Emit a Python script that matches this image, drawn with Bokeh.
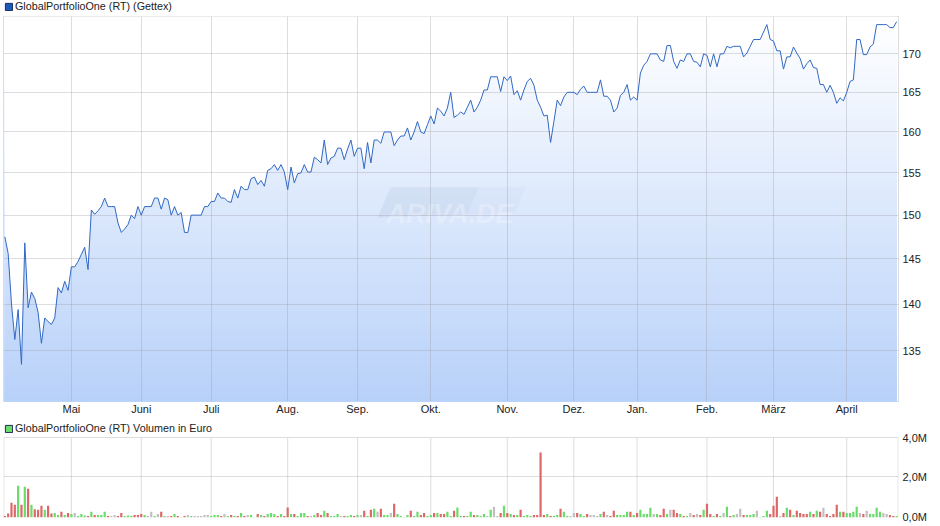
import numpy as np
from bokeh.plotting import figure
from bokeh.layouts import column
from bokeh.models import Range1d, FixedTicker, Legend, LegendItem, ColumnDataSource
from bokeh.core.properties import value
from bokeh.embed import file_html
from bokeh.resources import INLINE

price = [
147.5,145.6,140.0,136.2,139.4,133.6,146.8,139.6,141.3,140.6,
139.1,135.8,138.5,138.1,137.8,138.5,141.8,141.2,142.5,141.5,
144.1,144.1,144.7,145.5,146.3,143.8,150.6,150.1,150.5,151.0,
152.0,151.0,151.0,151.0,149.1,148.0,148.4,148.9,150.0,149.6,
151.0,150.0,151.0,151.0,151.0,152.0,152.0,150.7,152.0,151.8,
150.0,151.0,150.0,150.3,148.0,148.0,150.0,150.0,150.0,150.0,
151.0,151.0,151.6,151.6,152.6,152.0,152.0,151.6,151.5,153.0,
152.0,153.4,153.0,153.0,154.3,154.5,153.6,154.1,153.4,155.3,
155.5,156.0,155.3,156.0,155.1,153.0,155.7,153.8,154.9,155.0,
156.0,155.1,155.1,156.9,156.6,156.2,159.0,156.0,156.8,157.0,
158.0,158.0,156.6,157.9,159.0,157.0,158.0,158.0,155.5,158.7,
156.2,159.0,159.0,158.6,160.0,160.0,160.0,158.3,159.0,159.5,
159.5,160.5,159.0,160.0,161.3,160.0,159.8,160.9,162.0,161.0,
163.0,162.6,162.0,163.0,165.0,161.8,162.1,162.5,162.2,163.1,
164.0,162.5,163.1,164.0,165.3,165.3,167.0,167.0,167.0,165.1,
167.0,166.5,167.1,164.7,165.2,164.0,165.3,166.4,166.8,165.9,
164.0,163.1,162.0,162.1,158.7,161.3,164.0,163.3,164.4,165.0,
165.0,165.0,164.7,165.4,165.8,165.0,165.0,165.0,165.0,166.6,
164.5,164.5,164.0,162.5,163.0,164.6,165.0,166.0,164.0,164.4,
164.0,167.5,168.5,169.0,170.0,170.0,170.0,169.2,169.0,171.1,
171.1,169.0,168.1,169.2,169.0,170.0,170.0,169.0,168.9,168.3,
170.0,169.8,168.3,170.0,168.3,170.0,170.0,171.0,170.8,171.0,
171.0,171.0,169.6,170.1,171.0,171.9,171.9,171.9,172.9,173.9,
171.9,171.7,170.4,170.4,168.0,169.6,169.6,170.9,170.1,169.4,
168.0,168.7,169.2,168.2,168.1,166.0,166.0,165.0,165.9,165.0,
163.6,164.3,163.9,165.0,166.4,166.6,171.9,171.9,169.9,169.9,
170.9,171.3,173.9,173.9,173.9,173.9,173.5,173.5,174.3]

volume = [
.08,.2,.74,.64,1.59,.64,1.54,1.44,.64,.42,
.39,.59,.39,.59,.2,.23,.13,.29,.13,.23,
.18,.23,.08,.18,.1,.08,.29,.13,.13,.13,
.29,.08,.08,.13,.08,.23,.08,.1,.08,.13,
.13,.18,.13,.08,.29,.08,.18,.29,.08,.05,
.08,.18,.08,.03,.08,.13,.08,.08,.08,.08,
.13,.13,.08,.13,.13,.08,.18,.08,.13,.08,
.08,.23,.08,.13,.13,.03,.18,.13,.08,.18,
.23,.18,.08,.18,.08,.5,.18,.18,.08,.23,
.23,.08,.08,.13,.23,.13,.34,.23,.08,.08,
.18,.08,.08,.08,.13,.08,.13,.13,.34,.08,
.39,.44,.29,.44,.13,.13,.23,.69,.18,.08,
.03,.13,.34,.08,.29,.13,.23,.08,.13,.23,
.23,.18,.18,.29,.08,.34,.5,.08,.08,.08,
.29,.13,.13,.08,.18,.08,.39,.54,.08,.23,
.59,.23,.18,.13,.13,.39,.08,.13,.08,.13,
.13,3.27,.13,.18,.08,.08,.13,.44,.29,.08,
.08,.23,.23,.18,.08,.18,.13,.13,.08,.18,
.29,.13,.08,.34,.13,.13,.13,.29,.29,.13,
.23,.39,.18,.18,.49,.18,.18,.13,.44,.18,
.39,.39,.23,.18,.08,.08,.23,.13,.18,.13,
.39,.69,.18,.08,.18,.08,.23,.54,.08,.13,
.18,.44,.13,.13,.13,.18,.34,.03,.08,.34,
.18,.59,1.04,.08,.23,.49,.39,.13,.34,.23,
.18,.18,.29,.18,.34,.29,.49,.18,.08,.18,
.64,.29,.29,.23,.23,.29,.54,.23,.18,.34,
.18,.18,.49,.29,.23,.18,.13,.08,.08]

direction = (
"r r r r g r g r g r "
"r r g r r g g r g r "
"g n g g g r g r g g "
"g r n n r r g g g r "
"r r g n n g n r g r "
"r g r g r n g n n n "
"n n g g g r n g r g "
"r g r n g g r g r g "
"g g r g r r g r g g "
"g r n g r r g r g g "
"g n r g g r g n r g "
"r g n r g g n r g g "
"n g r g g r r g g r "
"g r r g g r g g r g "
"g r g g g n g n n r "
"g r g r g r g g g r "
"r r r g r g g r g g "
"n n r g g r n n n g "
"r n r r g g g g r g "
"r g g g g n g r r g "
"n r r g r g n r n r "
"g r r g r g n g r g "
"n n r g g g n g g g "
"r r r n r g r g r r "
"r r g r g r n r r r "
"r g r g g g g n r n "
"g g g g n n r r g").split()

month_pos = [20, 41, 62, 85, 106, 128, 151, 171, 190, 211, 231, 253]
month_lab = ["Mai", "Juni", "Juli", "Aug.", "Sep.", "Okt.", "Nov.", "Dez.", "Jan.", "Feb.", "März", "April"]
price_ticks = [135, 140, 145, 150, 155, 160, 165, 170]
vol_ticks = [0.05, 2.06, 4]
vol_labels = ["0,0M", "2,0M", "4,0M"]

FONT = "Liberation Sans"
TXT = "#222222"
GRID = "#9e9ea6"
GRID_A = 0.35
LINE = "#3068c4"
idx = list(range(len(price)))
dir_colors = {"r": "#de6868", "g": "#6adc6a", "n": "#c0c0c0"}
XR = (-0.4, 268.56)
YTOP, YBOT = 175.0, 129.8


def style(p):
    p.toolbar.logo = None
    p.border_fill_color = "white"
    p.background_fill_color = "white"
    p.outline_line_color = GRID
    p.outline_line_alpha = GRID_A
    p.xgrid.ticker = FixedTicker(ticks=month_pos)
    p.xgrid.grid_line_color = GRID
    p.xgrid.grid_line_alpha = GRID_A
    p.ygrid.grid_line_color = GRID
    p.ygrid.grid_line_alpha = GRID_A
    ax = p.yaxis[0]
    ax.axis_line_color = None
    ax.major_tick_line_color = None
    ax.minor_tick_line_color = None
    ax.major_tick_out = 0
    ax.major_tick_in = 0
    ax.major_label_text_font = FONT
    ax.major_label_text_font_size = "11px"
    ax.major_label_text_color = TXT
    ax.major_label_standoff = 4


def add_legend(f, text, fill, yoff):
    r = f.quad(left=[-5], right=[-5], top=[1], bottom=[1], fill_color=fill,
               line_color="#1d2b55", line_width=1, fill_alpha=1)
    lg = Legend(items=[LegendItem(label=text, renderers=[r])], location=(1, yoff),
                margin=0, padding=0, spacing=0, glyph_width=9, glyph_height=9, label_standoff=2,
                label_height=9, label_text_font=FONT, label_text_font_size="10.75px",
                label_text_color=TXT, border_line_color=None, background_fill_alpha=0,
                label_text_line_height=1.0)
    f.add_layout(lg, "center")


# legend row of the main chart
h1 = figure(width=940, height=15, x_range=Range1d(0, 940), y_range=Range1d(0, 15), output_backend="svg",
            toolbar_location=None, x_axis_type=None, y_axis_type=None, min_border=0)
h1.outline_line_color = None
h1.grid.visible = False
add_legend(h1, "GlobalPortfolioOne (RT) (Gettex)", "#1a5bbf", 3)

# main chart
p = figure(width=940, height=405, y_axis_type="log",
           x_range=Range1d(*XR), y_range=Range1d(YBOT, YTOP), output_backend="svg",
           toolbar_location=None, y_axis_location="right",
           min_border_left=3, min_border_right=42, min_border_top=1, min_border_bottom=19)
style(p)
p.yaxis[0].ticker = FixedTicker(ticks=price_ticks)
p.ygrid.ticker = FixedTicker(ticks=price_ticks)
xa = p.xaxis[0]
xa.ticker = FixedTicker(ticks=month_pos)
xa.major_label_overrides = dict(zip(month_pos, month_lab))
xa.axis_line_color = None
xa.major_tick_line_color = None
xa.minor_tick_line_color = None
xa.major_tick_out = 0
xa.major_tick_in = 0
xa.major_label_text_font = FONT
xa.major_label_text_font_size = "11px"
xa.major_label_text_color = TXT
xa.major_label_standoff = 1

# vertical colour ramp of the area: each band reaches down to the frame bottom, so no seams show
edges = np.exp(np.linspace(np.log(YTOP), np.log(YBOT), 78))
mids = np.linspace(0, 1, 77)
ramp = ["#%02x%02x%02x" % (round(255 + (184 - 255) * t), round(255 + (209 - 255) * t), round(255 + (249 - 255) * t))
        for t in mids]
p.quad(left=idx[0], right=idx[-1], top=edges[:-1], bottom=YBOT, fill_color=ramp, line_color=None, level="image")
p.varea(x=idx, y1=price, y2=YTOP, fill_color="white", level="image")

# watermark
def X(px):
    return (px - 4) / 3.33
def Y(py):
    return 170 * np.exp((53.3 - py) / 1288)
p.patch([X(390), X(478), X(467), X(377)], [Y(187), Y(187), Y(214), Y(217)], fill_color="#1a3a70", fill_alpha=0.055,
        line_color=None, level="image")
p.patch([X(478), X(525), X(515), X(467)], [Y(187), Y(187), Y(212), Y(214)], fill_color="#1a3a70", fill_alpha=0.025,
        line_color=None, level="image")
p.text([X(386)], [Y(213)], text=["ARIVA.DE"], text_font=value(FONT), text_font_style="bold italic",
       text_font_size="27px", text_color="white", text_alpha=0.3, level="image", text_baseline="alphabetic")

p.line(idx, price, line_color=LINE, line_width=1)

# volume chart: the frame also holds the legend row above the 4,0M line
q = figure(width=940, height=106,
           x_range=Range1d(*XR), y_range=Range1d(0, 4.824), output_backend="svg",
           toolbar_location=None, y_axis_location="right",
           min_border_left=3, min_border_right=42, min_border_top=1, min_border_bottom=9)
style(q)
q.outline_line_color = None
q.yaxis[0].ticker = FixedTicker(ticks=vol_ticks)
q.yaxis[0].major_label_overrides = dict(zip(vol_ticks, vol_labels))
q.ygrid.ticker = FixedTicker(ticks=vol_ticks[1:])
q.xgrid.visible = False
q.xaxis.visible = False
vx = [XR[0] + 0.1] + month_pos + [XR[1] - 0.1]
q.segment(x0=vx, x1=vx, y0=0, y1=4, line_color=GRID, line_alpha=GRID_A, line_width=1, level="underlay")
src = ColumnDataSource(dict(x=idx, v=volume, c=[dir_colors[d] for d in direction]))
q.vbar(x="x", top="v", bottom=0, width=0.66, fill_color="c", line_color=None, source=src)
add_legend(q, "GlobalPortfolioOne (RT) Volumen in Euro", "#6adc6a", 83)

root = column(h1, p, q, spacing=0)
open("out.html", "w").write(file_html(root, INLINE))
